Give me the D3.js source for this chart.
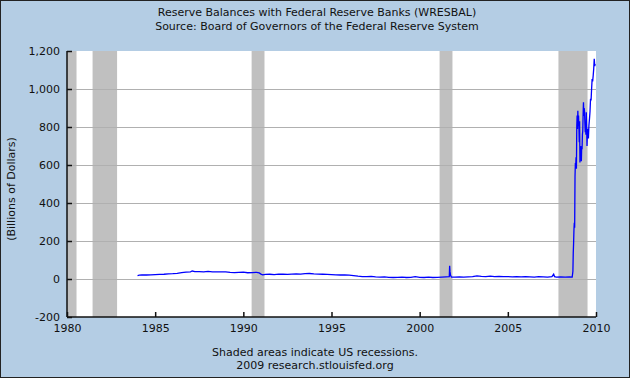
<!DOCTYPE html>
<html>
<head>
<meta charset="utf-8">
<script src="https://cdn.jsdelivr.net/npm/d3@7"></script>
<style>
  body { margin: 0; }
  svg { display: block; font-family: "DejaVu Sans", Verdana, sans-serif; }
</style>
</head>
<body>
<div id="chart"></div>
<script>
// recession periods (decimal years)
const recStart = [1980.0, 1981.45, 1990.47, 2001.13, 2007.87];
const recEnd = [1980.54, 1982.84, 1991.2, 2001.86, 2009.52];

// WRESBAL, billions of dollars (decimal year, value)
const dates = [
  1984.0, 1984.1, 1984.25, 1984.5, 1984.75, 1985.0, 1985.25, 1985.5, 1985.75, 1986.0,
  1986.25, 1986.5, 1986.75, 1987.0, 1987.1, 1987.25, 1987.5, 1987.75, 1988.0, 1988.25,
  1988.5, 1988.75, 1989.0, 1989.25, 1989.5, 1989.75, 1990.0, 1990.25, 1990.5, 1990.75,
  1990.9, 1991.0, 1991.1, 1991.25, 1991.5, 1991.75, 1992.0, 1992.25, 1992.5, 1992.75,
  1993.0, 1993.25, 1993.5, 1993.75, 1994.0, 1994.25, 1994.5, 1994.75, 1995.0, 1995.25,
  1995.5, 1995.75, 1996.0, 1996.25, 1996.5, 1996.75, 1997.0, 1997.25, 1997.5, 1997.75,
  1998.0, 1998.25, 1998.5, 1998.75, 1999.0, 1999.25, 1999.5, 1999.75, 2000.0, 2000.25,
  2000.5, 2000.75, 2001.0, 2001.25, 2001.5, 2001.68, 2001.7, 2001.72, 2001.75, 2001.8,
  2002.0, 2002.25, 2002.5, 2002.75, 2003.0, 2003.25, 2003.5, 2003.75, 2004.0, 2004.25,
  2004.5, 2004.75, 2005.0, 2005.25, 2005.5, 2005.75, 2006.0, 2006.25, 2006.5, 2006.75,
  2007.0, 2007.25, 2007.5, 2007.6, 2007.65, 2007.75, 2008.0, 2008.25, 2008.5, 2008.65,
  2008.69, 2008.71, 2008.73, 2008.75, 2008.77, 2008.79, 2008.81, 2008.83, 2008.85, 2008.87,
  2008.89, 2008.91, 2008.93, 2008.95, 2008.97, 2008.99, 2009.01, 2009.03, 2009.05, 2009.07,
  2009.09, 2009.11, 2009.13, 2009.15, 2009.17, 2009.19, 2009.21, 2009.23, 2009.25, 2009.27,
  2009.29, 2009.31, 2009.33, 2009.35, 2009.37, 2009.39, 2009.41, 2009.43, 2009.45, 2009.47,
  2009.49, 2009.51, 2009.54, 2009.57, 2009.60, 2009.63, 2009.66, 2009.69, 2009.72, 2009.75,
  2009.78, 2009.81, 2009.84, 2009.87, 2009.90, 2009.93, 2009.95
];
const values = [
  18, 20, 21, 21, 22, 23, 24, 25, 27, 28,
  30, 33, 36, 38, 42, 39, 39, 38, 40, 37,
  38, 37, 38, 35, 34, 35, 36, 33, 34, 35,
  32, 26, 22, 24, 25, 23, 26, 25, 24, 26,
  27, 26, 28, 29, 27, 26, 25, 24, 23, 22,
  21, 21, 20, 18, 15, 13, 12, 14, 11, 10,
  11, 9, 8, 9, 10, 8, 9, 12, 9, 8,
  10, 8, 9, 10, 11, 12, 70, 40, 19, 10,
  10, 11, 10, 11, 12, 16, 14, 13, 15, 12,
  14, 12, 13, 11, 13, 11, 12, 11, 10, 12,
  11, 10, 12, 25, 12, 10, 11, 10, 11, 10,
  40, 137, 190, 260, 296, 270, 540, 610, 600, 640,
  580, 805, 860, 790, 885, 820, 860, 805, 720, 830,
  613, 700, 640, 690, 620, 700, 683, 760, 780, 870,
  930, 858, 900, 880, 820, 772, 790, 760, 878, 800,
  700, 760, 790, 740, 810, 843, 880, 948, 940, 1000,
  1053, 1040, 1070, 1106, 1159, 1120, 1132
];

const yTicks = [-200, 0, 200, 400, 600, 800, 1000, 1200];
const xTicks = [1980, 1985, 1990, 1995, 2000, 2005, 2010];

const W = 630, H = 378;
const margin = { top: 51, right: 34, bottom: 61, left: 67 },
    width = W - margin.left - margin.right,
    height = H - margin.top - margin.bottom;

// plain hyphen for negatives, comma thousands
const fmt = d3.formatLocale({ decimal: ".", thousands: ",", grouping: [3], currency: ["$", ""], minus: "-" });

const svg = d3.select("#chart")
    .append("svg")
    .attr("width", W)
    .attr("height", H);

// background + frame
svg.append("rect")
    .attr("x", 0.5).attr("y", 0.5)
    .attr("width", W - 1).attr("height", H - 1)
    .attr("fill", "#b4cde4")
    .attr("stroke", "#222");

// titles
svg.append("text")
    .attr("x", 317).attr("y", 16)
    .attr("text-anchor", "middle")
    .attr("font-size", 11)
    .attr("fill", "#111")
    .text("Reserve Balances with Federal Reserve Banks (WRESBAL)");
svg.append("text")
    .attr("x", 317).attr("y", 30)
    .attr("text-anchor", "middle")
    .attr("font-size", 11)
    .attr("fill", "#111")
    .text("Source: Board of Governors of the Federal Reserve System");

const g = svg.append("g")
    .attr("transform", `translate(${margin.left},${margin.top})`);

const x = d3.scaleLinear().domain([1980, 2010]).range([0, width]);
const y = d3.scaleLinear().domain([-200, 1200]).range([height, 0]);

// plot area
g.append("rect")
    .attr("width", width).attr("height", height)
    .attr("fill", "#fff");

// recession shading
g.append("g")
    .selectAll("rect")
    .data(recStart)
    .join("rect")
    .attr("x", (d, i) => x(d))
    .attr("y", 0)
    .attr("width", (d, i) => x(recEnd[i]) - x(d))
    .attr("height", height)
    .attr("fill", "#c0c0c0");

// gridlines
g.append("g")
    .selectAll("line")
    .data(yTicks.filter(d => d > -200 && d < 1200))
    .join("line")
    .attr("x1", 0).attr("x2", width)
    .attr("y1", d => Math.round(y(d)) + 0.5)
    .attr("y2", d => Math.round(y(d)) + 0.5)
    .attr("stroke", "#b0b0b0");

// series
const data = dates.map((d, i) => [d, values[i]]);
g.append("path")
    .datum(data)
    .attr("fill", "none")
    .attr("stroke", "#0000ff")
    .attr("stroke-width", 1.3)
    .attr("d", d3.line().x(d => x(d[0])).y(d => y(d[1])));

// axes
const yAxis = g.append("g")
    .call(d3.axisLeft(y).tickValues(yTicks).tickSize(-5).tickPadding(7)
        .tickFormat(fmt.format(",")));
const xAxis = g.append("g")
    .attr("transform", `translate(0,${height})`)
    .call(d3.axisBottom(x).tickValues(xTicks).tickSize(-5).tickPadding(7)
        .tickFormat(d3.format("d")));

[yAxis, xAxis].forEach(a => {
    a.select(".domain").attr("stroke", "#111").attr("stroke-width", 1.5);
    a.selectAll(".tick line").attr("stroke", "#111").attr("stroke-width", 1.5);
    a.selectAll("text")
        .attr("font-family", "DejaVu Sans, Verdana, sans-serif")
        .attr("font-size", 11)
        .attr("fill", "#111");
});
yAxis.select(".domain").attr("d", `M0,0V${height}`);
xAxis.select(".domain").attr("d", `M0,0H${width}`);

// y label
svg.append("text")
    .attr("transform", "translate(15,189) rotate(-90)")
    .attr("text-anchor", "middle")
    .attr("font-size", 11)
    .attr("fill", "#111")
    .text("(Billions of Dollars)");

// footer
svg.append("text")
    .attr("x", 315).attr("y", 356)
    .attr("text-anchor", "middle")
    .attr("font-size", 11)
    .attr("fill", "#111")
    .text("Shaded areas indicate US recessions.");
svg.append("text")
    .attr("x", 315).attr("y", 369)
    .attr("text-anchor", "middle")
    .attr("font-size", 11)
    .attr("fill", "#111")
    .text("2009 research.stlouisfed.org");
</script>
</body>
</html>
